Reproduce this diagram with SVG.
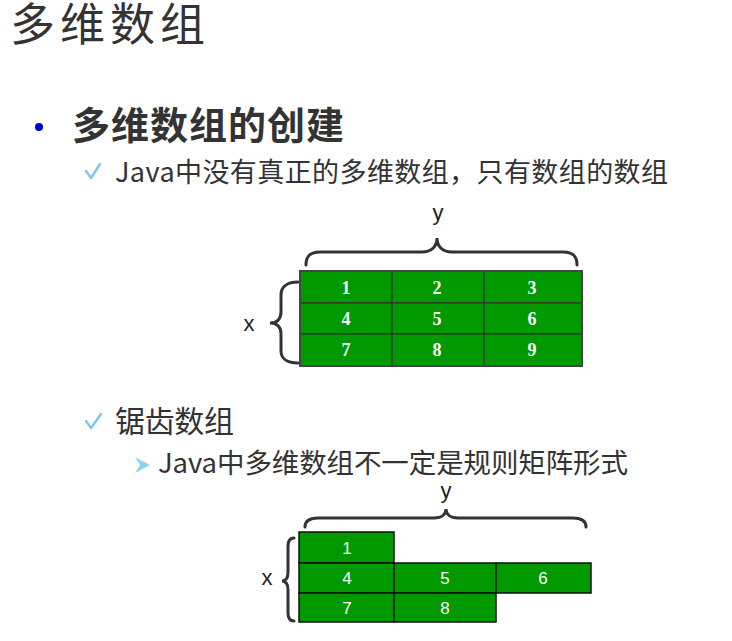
<svg xmlns="http://www.w3.org/2000/svg" width="732" height="641" viewBox="0 0 732 641">
<style>
.t{font-family:"Noto Sans CJK SC","Liberation Sans",sans-serif;fill:#333333}
.brace{fill:none;stroke:#333333;stroke-width:3;stroke-linecap:round}
.cell{fill:#009900;stroke:#333333;stroke-width:1.2}
.cell2{fill:#009900;stroke:#111111;stroke-width:1.5}
.n1{font-family:"Liberation Serif",serif;font-weight:bold;font-size:18px;fill:#ffffff;text-anchor:middle}
.n2{font-family:"Liberation Sans",sans-serif;font-size:17px;fill:#ffffff;text-anchor:middle}
.lab{font-family:"Liberation Sans",sans-serif;font-size:22px;fill:#222222;text-anchor:middle}
.chk{fill:none;stroke:#7cc8ec;stroke-width:2.4;stroke-linecap:round;stroke-linejoin:round}
</style>
<rect width="732" height="641" fill="#ffffff"/>
<g id="title">
<text class="t" x="10" y="41" font-size="45" textLength="195">多维数组</text>
</g>
<g id="bullet1">
<circle cx="39" cy="127" r="4" fill="#0000cc"/>
<text class="t" x="72" y="139" font-size="38" font-weight="bold" textLength="272">多维数组的创建</text>
</g>
<g id="line1">
<path class="chk" d="M86,171 L91,178 L100,164"/>
<text class="t" x="115" y="182" font-size="27" textLength="553">Java中没有真正的多维数组，只有数组的数组</text>
</g>
<g id="line2">
<path class="chk" d="M86,421 L91,428 L101,414"/>
<text class="t" x="115" y="432" font-size="30" textLength="119">锯齿数组</text>
</g>
<g id="line3">
<polygon points="135,457 150,465 135,473 140,465" fill="#8fd3ee"/>
<text class="t" x="158" y="473" font-size="27.5" textLength="470">Java中多维数组不一定是规则矩阵形式</text>
</g>
<g id="grid1">
<rect class="cell" x="300" y="271" width="92" height="32"/>
<rect class="cell" x="392" y="271" width="92" height="32"/>
<rect class="cell" x="484" y="271" width="98" height="32"/>
<rect class="cell" x="300" y="303" width="92" height="31"/>
<rect class="cell" x="392" y="303" width="92" height="31"/>
<rect class="cell" x="484" y="303" width="98" height="31"/>
<rect class="cell" x="300" y="334" width="92" height="32"/>
<rect class="cell" x="392" y="334" width="92" height="32"/>
<rect class="cell" x="484" y="334" width="98" height="32"/>
<rect x="300" y="271" width="282" height="95" fill="none" stroke="#444444" stroke-width="2"/>
<text class="n1" x="346" y="294">1</text>
<text class="n1" x="437" y="294">2</text>
<text class="n1" x="532" y="294">3</text>
<text class="n1" x="346" y="325">4</text>
<text class="n1" x="437" y="325">5</text>
<text class="n1" x="532" y="325">6</text>
<text class="n1" x="346" y="356">7</text>
<text class="n1" x="437" y="356">8</text>
<text class="n1" x="532" y="356">9</text>
</g>
<g id="grid2">
<rect class="cell2" x="299" y="532" width="95" height="31"/>
<rect class="cell2" x="299" y="563" width="95" height="30"/>
<rect class="cell2" x="394" y="563" width="102" height="30"/>
<rect class="cell2" x="496" y="563" width="95" height="30"/>
<rect class="cell2" x="299" y="593" width="95" height="29"/>
<rect class="cell2" x="394" y="593" width="102" height="29"/>
<text class="n2" x="347" y="554">1</text>
<text class="n2" x="347" y="584">4</text>
<text class="n2" x="445" y="584">5</text>
<text class="n2" x="543" y="584">6</text>
<text class="n2" x="347" y="614">7</text>
<text class="n2" x="445" y="614">8</text>
</g>
<g id="connectors">
<path class="brace" d="M306,265 C306,256 310,252 320,252 L422,252 C432,252 437,246 437,238 C437,246 442,252 452,252 L563,252 C573,252 577,256 577,265"/>
<path class="brace" d="M298,282 C288,282 281,286 281,295 L281,312 C281,319 277,323 270,323 C277,323 281,327 281,334 L281,351 C281,359 288,363 298,363"/>
<path class="brace" stroke-width="2.6" stroke="#111111" d="M305,527 C305,521 309,518 318,518 L434,518 C442,518 446,514 446,509 C446,514 450,518 458,518 L573,518 C582,518 586,521 586,527"/>
<path class="brace" stroke-width="2.6" stroke="#111111" d="M294,538 C290,538 288,541 288,546 L288,572 C288,578 286,581 282,581 C286,581 288,584 288,590 L288,613 C288,618 290,621 294,621"/>
</g>
<g id="labels">
<text class="lab" x="438" y="220" fill="#333333">y</text>
<text class="lab" x="249" y="331" fill="#333333">x</text>
<text class="lab" x="446" y="498" font-size="24" fill="#111111">y</text>
<text class="lab" x="267" y="585" font-size="24" fill="#111111">x</text>
</g>
</svg>
